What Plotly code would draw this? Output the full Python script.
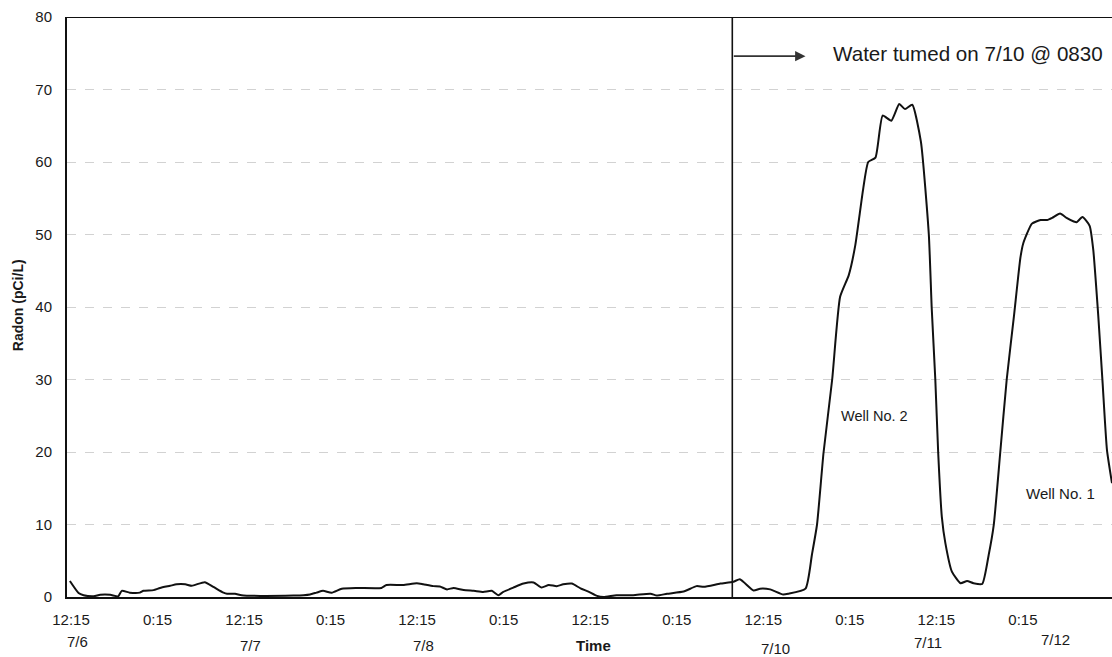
import plotly.graph_objects as go

# Hours elapsed since 7/6 12:15
hours = [0.4, 1.6, 2.3, 3.7, 4.6, 6.0, 7.1, 7.6, 8.7, 10.1, 10.6, 12.0, 12.9, 14.3, 15.2,
         16.4, 17.3, 19.1, 20.3, 21.7, 22.2, 23.3, 24.2, 26.8, 31.4,
         32.8, 33.7, 34.6, 35.5, 36.7, 38.1, 40.2, 43.6, 44.3, 46.6, 48.5, 49.4, 50.8,
         51.7, 52.7, 53.6, 55.0, 56.4, 57.7, 58.9, 59.8, 60.5, 61.9, 63.3,
         64.7, 65.8, 66.8, 67.9, 68.8, 70.0, 71.2, 72.3, 73.5, 74.4, 76.2, 78.5, 80.9,
         81.8, 83.2, 85.5, 87.3, 88.3, 90.6, 92.4, 93.3,
         95.2, 96.1, 97.5, 99.3, 100.0, 102.4, 103.3, 104.0, 104.9, 106.1,
         107.2, 108.4, 109.3, 110.4, 111.1, 112.1, 113.1, 114.3, 115.4, 116.2, 117.2,
         118.4, 119.5, 119.9, 120.4, 120.8, 121.3, 121.8, 122.7, 123.9, 124.8, 125.7,
         126.9, 127.8, 128.5, 129.4, 130.3, 131.3, 132.2, 132.6, 133.8, 135.0, 135.9,
         136.6, 137.7, 138.6, 139.6, 140.0, 140.8, 141.8, 142.3, 143.0, 143.6, 144.2, 144.9]
radon = [2.2, 0.55, 0.25, 0.1, 0.3, 0.3, 0.1, 0.85, 0.6, 0.6, 0.85, 0.95, 1.25, 1.55, 1.75,
         1.75, 1.55, 2.05, 1.4, 0.6, 0.45, 0.45, 0.25, 0.15, 0.2,
         0.25, 0.35, 0.6, 0.85, 0.6, 1.15, 1.25, 1.25, 1.65, 1.65, 1.9, 1.75, 1.5,
         1.45, 1.05, 1.25, 0.95, 0.85, 0.7, 0.85, 0.25, 0.7, 1.3, 1.85,
         2.0, 1.3, 1.65, 1.5, 1.75, 1.85, 1.2, 0.75, 0.15, 0.0, 0.25, 0.25, 0.45,
         0.2, 0.45, 0.75, 1.5, 1.4, 1.85, 2.1, 2.45,
         0.9, 1.15, 1.05, 0.35, 0.45, 1.15, 5.9, 10.0, 19.9, 30.0,
         41.4, 44.4, 48.5, 56.3, 60.0, 60.6, 66.4, 65.7, 68.0, 67.3, 67.9,
         62.8, 50.0, 39.9, 30.0, 19.9, 11.1, 7.4, 3.5, 1.9, 2.2, 1.9,
         1.8, 5.8, 9.9, 19.9, 30.0, 38.7, 46.8, 48.8, 51.5, 52.0, 52.0,
         52.3, 52.9, 52.3, 51.8, 51.7, 52.4, 51.2, 47.9, 38.7, 29.5, 20.3, 15.7]

tick_hours = [0, 12, 24, 36, 48, 60, 72, 84, 96, 108, 120, 132]
tick_labels = ["12:15", "0:15", "12:15", "0:15", "12:15", "0:15",
               "12:15", "0:15", "12:15", "0:15", "12:15", "0:15"]
date_labels = ["7/6", "7/7", "7/8", "Time", "7/10", "7/11", "7/12"]
date_hours = [1.4, 25.4, 49.4, 73.0, 98.2, 119.4, 137.0]
date_y = [-0.076, -0.083, -0.083, -0.083, -0.088, -0.079, -0.074]

water_on_hour = 92.25
water_text = "Water tumed on 7/10 @ 0830"

FONT = "Liberation Sans, Arial, sans-serif"
TXT = "#1a1a1a"

fig = go.Figure()
fig.add_trace(go.Scatter(x=hours, y=radon, mode="lines",
                         line=dict(color="#111111", width=2, shape="spline", smoothing=0.5),
                         hoverinfo="skip", showlegend=False))

fig.update_layout(
    width=1112, height=657,
    margin=dict(l=67, r=0, t=17, b=60),
    paper_bgcolor="white", plot_bgcolor="white",
    font=dict(family=FONT, size=15, color=TXT),
    showlegend=False,
)
fig.update_xaxes(range=[0, 144.9], tickmode="array",
                 tickvals=[h + 0.55 for h in tick_hours], ticktext=tick_labels,
                 showgrid=False, zeroline=False, showline=True, linecolor="#111",
                 linewidth=2, ticks="", ticklabelstandoff=8,
                 tickfont=dict(size=15, color=TXT, family=FONT))
fig.update_yaxes(range=[0, 80], dtick=10, tick0=0,
                 showgrid=True, gridcolor="#d2d2d2", griddash="dash", gridwidth=1,
                 zeroline=False, showline=True, linecolor="#111", linewidth=2,
                 ticks="", ticklabelstandoff=10,
                 tickfont=dict(size=15, color=TXT, family=FONT))

# top border
fig.add_shape(type="line", xref="paper", yref="y", x0=0, x1=1, y0=80, y1=80,
              line=dict(color="#111", width=2))
# water turned on vertical line
fig.add_shape(type="line", xref="x", yref="y", x0=water_on_hour, x1=water_on_hour,
              y0=0, y1=80, line=dict(color="#111", width=1.6))

# arrow
fig.add_annotation(x=102.4, y=74.6, ax=water_on_hour, ay=74.6, axref="x", ayref="y",
                   xref="x", yref="y", text="", showarrow=True, arrowhead=2,
                   arrowsize=1.3, arrowwidth=1.6, arrowcolor="#333")
fig.add_annotation(x=106.0, y=74.9, xref="x", yref="y", text=water_text,
                   showarrow=False, xanchor="left", yanchor="middle",
                   font=dict(size=20.6, color=TXT, family=FONT))
fig.add_annotation(x=112.0, y=25.0, xref="x", yref="y", text="Well No. 2",
                   showarrow=False, font=dict(size=14.5, color=TXT, family=FONT))
fig.add_annotation(x=137.7, y=14.3, xref="x", yref="y", text="Well No. 1",
                   showarrow=False, font=dict(size=15, color=TXT, family=FONT))

# date labels under the time ticks
for lbl, hx, py in zip(date_labels, date_hours, date_y):
    bold = lbl == "Time"
    fig.add_annotation(x=hx, y=py, xref="x", yref="paper", text=f"<b>{lbl}</b>" if bold else lbl,
                       showarrow=False, xanchor="center", yanchor="middle",
                       font=dict(size=15, color=TXT, family=FONT))

# y-axis title
fig.add_annotation(x=-0.047, y=0.503, xref="paper", yref="paper",
                   text="<b>Radon (pCi/L)</b>", textangle=-90, showarrow=False,
                   xanchor="center", yanchor="middle",
                   font=dict(size=14, color=TXT, family=FONT))

fig.write_html("out.html", config={"displayModeBar": False},
               post_script="document.body.style.margin='0';document.body.style.overflow='hidden';")
